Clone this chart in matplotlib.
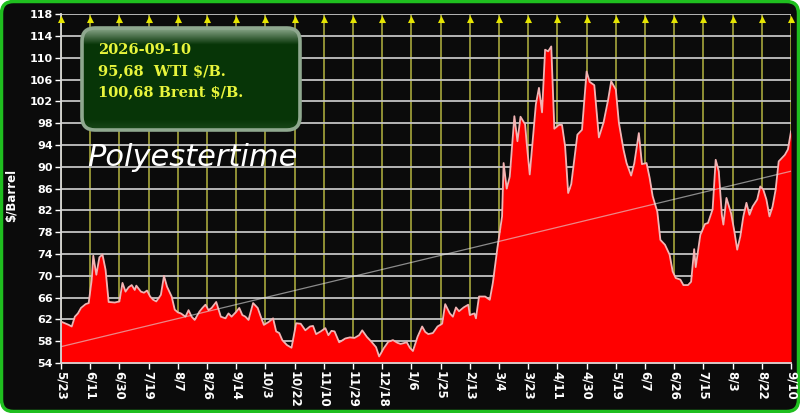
import matplotlib
matplotlib.use("Agg")
import matplotlib.pyplot as plt
import numpy as np
import pandas as pd
from matplotlib.patches import FancyBboxPatch

# ---------------- data ----------------
start_date = "2025-05-23"
end_date = "2026-09-10"

day_offset = [0, 5, 7, 9, 11, 13, 16, 18, 20, 21, 23, 25, 27, 29, 31, 35, 38, 40, 42, 44,
              46, 48, 49, 52, 54, 56, 58, 60, 62, 65, 67, 69, 72, 74, 76, 78, 81, 83, 85, 87,
              90, 92, 94, 96, 98, 101, 104, 107, 109, 111, 114, 116, 118, 120, 122, 125, 128, 130, 132, 135,
              138, 140, 142, 144, 147, 150, 153, 156, 159, 162, 164, 166, 169, 172, 174, 176, 178, 181, 185, 188,
              191, 194, 196, 199, 202, 205, 207, 210, 213, 216, 219, 221, 225, 227, 229, 232, 235, 237, 239, 242,
              245, 248, 250, 253, 255, 257, 259, 262, 265, 266, 269, 270, 272, 276, 279, 281, 284, 287, 288, 290,
              292, 295, 297, 299, 302, 303, 305, 309, 311, 313, 315, 317, 319, 321, 324, 326, 328, 330, 332, 336,
              339, 342, 344, 347, 350, 353, 356, 358, 361, 363, 366, 368, 371, 373, 376, 378, 381, 383, 385, 388,
              390, 393, 396, 398, 400, 403, 405, 408, 410, 412, 413, 416, 419, 421, 424, 426, 428, 430, 431, 433,
              436, 438, 440, 442, 444, 446, 448, 450, 453, 455, 457, 459, 461, 463, 465, 467, 469, 471, 473, 475]

wti_price = [61.6, 61.0, 60.7, 62.5, 63.1, 64.1, 64.8, 65.0, 69.3, 73.7, 70.2, 73.4, 73.9, 71.1, 65.2, 65.1, 65.3, 68.7, 67.1, 67.9,
             68.3, 67.4, 68.2, 67.1, 66.9, 67.3, 66.2, 65.6, 65.3, 66.5, 70.0, 68.0, 66.2, 63.8, 63.3, 63.1, 62.5, 63.7, 62.5, 61.9,
             63.4, 64.1, 64.7, 63.7, 64.1, 65.2, 62.5, 62.2, 63.1, 62.5, 63.4, 64.1, 62.8, 62.5, 61.9, 65.0, 64.1, 62.5, 61.0, 61.5,
             62.2, 59.8, 59.5, 58.2, 57.3, 56.8, 61.3, 61.2, 60.0, 60.7, 60.8, 59.3, 59.8, 60.4, 59.1, 59.9, 59.8, 57.8, 58.5, 58.7,
             58.6, 59.1, 60.0, 58.8, 57.9, 56.9, 55.2, 56.7, 57.9, 58.2, 57.7, 57.5, 57.8, 56.8, 56.2, 58.8, 60.7, 59.7, 59.3, 59.5,
             60.7, 61.2, 64.8, 63.1, 62.5, 64.2, 63.5, 64.2, 64.7, 62.8, 63.1, 62.2, 66.2, 66.2, 65.6, 68.7, 75.2, 80.9, 90.7, 86.0,
             88.2, 99.3, 94.7, 99.2, 97.8, 94.4, 88.6, 101.5, 104.5, 100.0, 111.5, 111.2, 112.1, 97.0, 97.7, 97.7, 93.8, 85.2, 86.8, 95.9,
             96.8, 107.5, 105.6, 105.0, 95.4, 98.1, 102.3, 105.7, 104.2, 98.1, 93.2, 90.7, 88.4, 90.6, 96.2, 90.5, 90.7, 88.0, 84.6, 81.8,
             76.6, 75.7, 73.9, 70.8, 69.6, 69.3, 68.3, 68.3, 68.9, 74.9, 71.6, 77.5, 79.5, 79.7, 82.2, 91.3, 89.2, 81.2, 79.4, 84.3,
             81.5, 78.4, 74.8, 77.2, 80.9, 83.4, 81.2, 82.7, 84.0, 86.4, 85.8, 84.0, 80.9, 82.7, 85.8, 91.0, 91.6, 92.2, 93.2, 96.5]

trend_values = [57.0, 89.2]          # trend line at first and last date

tick_labels = ["5/23", "6/11", "6/30", "7/19", "8/7", "8/26", "9/14", "10/3", "10/22", "11/10",
               "11/29", "12/18", "1/6", "1/25", "2/13", "3/4", "3/23", "4/11", "4/30", "5/19",
               "6/7", "6/26", "7/15", "8/3", "8/22", "9/10"]
tick_step_days = 19

y_ticks = list(range(54, 119, 4))

info_lines = ["2026-09-10", "95,68  WTI $/B.", "100,68 Brent $/B."]
brand = "Polyestertime"
y_label = "$/Barrel"

# ---------------- figure ----------------
W, H = 800, 413
fig = plt.figure(figsize=(W / 100, H / 100), dpi=100, facecolor="white")

bg = fig.add_axes([0, 0, 1, 1], zorder=0)
bg.set_xlim(0, W)
bg.set_ylim(H, 0)
bg.axis("off")
bg.add_patch(FancyBboxPatch((1.5, 1.5), W - 3, H - 3,
                            boxstyle="round,pad=0,rounding_size=12",
                            facecolor="#0b0b0b", edgecolor="#1fbf1f", lw=2.5))
bg.text(11, 195, y_label, rotation=90, color="white", fontsize=8.5,
        fontweight="bold", ha="center", va="center")

L, R, T, B = 61, 791, 14.3, 363
ax = fig.add_axes([L / W, 1 - B / H, (R - L) / W, (B - T) / H], zorder=1)
ax.set_facecolor("#0b0b0b")

t0 = pd.Timestamp(start_date)
dates = t0 + pd.to_timedelta(day_offset, unit="D")
tick_dates = pd.date_range(start_date, periods=len(tick_labels), freq=f"{tick_step_days}D")

ax.set_xlim(t0, pd.Timestamp(end_date))
ax.set_ylim(54, 118)
ax.set_axisbelow(True)
ax.set_yticks(y_ticks)
ax.set_xticks(tick_dates)
ax.set_xticklabels(tick_labels, rotation=270, ha="center", va="top")
ax.yaxis.grid(True, color="#c4c4c4", lw=1.3)
ax.xaxis.grid(True, color="#b4b440", lw=1.1)

ax.fill_between(dates, 54, wti_price, color="#ff0000", lw=0, zorder=2)
ax.plot(dates, wti_price, color="#f2b4b4", lw=1.3, zorder=3)
ax.plot([t0, pd.Timestamp(end_date)], trend_values, color="#e0e0e0", lw=0.9,
        alpha=0.6, zorder=4)
ax.scatter(tick_dates, [117.2] * len(tick_dates), marker="^", s=26,
           color="#e6e600", zorder=5, clip_on=False, lw=0)

for s in ["top", "right"]:
    ax.spines[s].set_visible(False)
for s in ["left", "bottom"]:
    ax.spines[s].set_color("#d8d8d8")
    ax.spines[s].set_linewidth(1.3)
ax.tick_params(colors="white", length=4, width=1, labelsize=8, pad=2)
ax.tick_params(axis="x", labelsize=8.5)
for lab in ax.get_xticklabels() + ax.get_yticklabels():
    lab.set_fontweight("bold")
    lab.set_color("white")

# ---------------- overlay: info box and brand ----------------
ov = fig.add_axes([0, 0, 1, 1], zorder=3)
ov.set_xlim(0, W)
ov.set_ylim(H, 0)
ov.axis("off")
ov.patch.set_alpha(0)

bx, by, bw, bh = 82, 28, 218, 102
box = FancyBboxPatch((bx, by), bw, bh, boxstyle="round,pad=0,rounding_size=13",
                     facecolor="none", edgecolor="#8fa88f", lw=2.6, zorder=3)
ov.add_patch(box)
grad = np.linspace(0, 1, 200)
top_col = np.array([0.55, 0.66, 0.55])
mid_col = np.array([0.03, 0.21, 0.03])
bot_col = np.array([0.10, 0.28, 0.10])
cols = []
for g in grad:
    if g < 0.16:
        f = g / 0.16
        c = top_col * (1 - f) + mid_col * f
    elif g > 0.9:
        f = (g - 0.9) / 0.1
        c = mid_col * (1 - f) + bot_col * f
    else:
        c = mid_col
    cols.append(c)
img = np.array(cols)[:, None, :]
im = ov.imshow(img, extent=[bx, bx + bw, by + bh, by], aspect="auto", zorder=2)
clip = FancyBboxPatch((bx, by), bw, bh, boxstyle="round,pad=0,rounding_size=13",
                      facecolor="none", edgecolor="none", transform=ov.transData)
ov.add_patch(clip)
im.set_clip_path(clip)
ov.set_xlim(0, W)
ov.set_ylim(H, 0)

for i, line in enumerate(info_lines):
    ov.text(98, 50.5 + i * 21, line, color="#e8f53c", fontsize=10.5,
            fontweight="bold", family="DejaVu Serif", ha="left", va="center", zorder=4)

ov.text(87, 158, brand, color="white", fontsize=22, style="italic",
        family="DejaVu Sans", ha="left", va="center", zorder=4)

fig.savefig("out.png", dpi=100, facecolor=fig.get_facecolor())
